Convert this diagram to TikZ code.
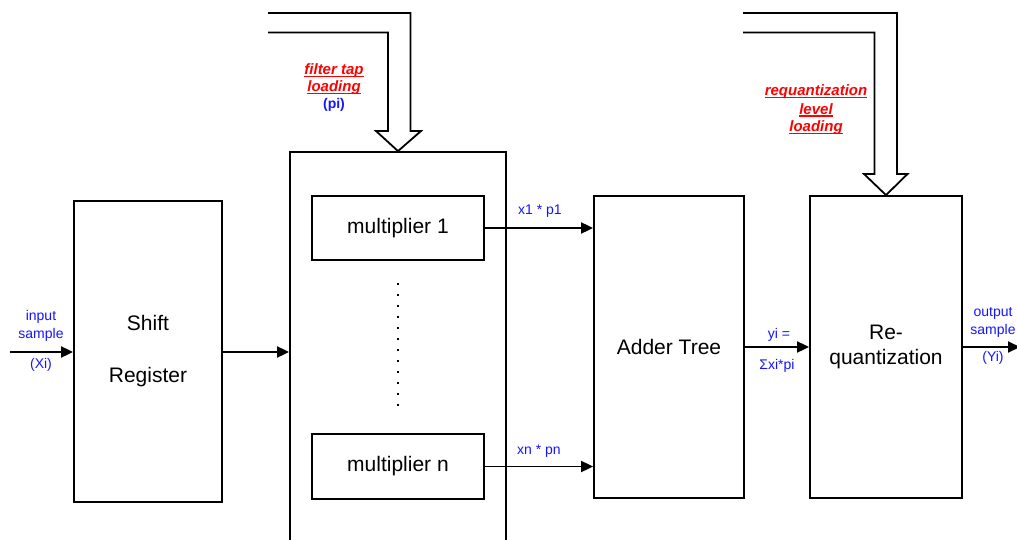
\documentclass[tikz,border=0pt]{standalone}
\usepackage{fontspec}
\setmainfont{Liberation Sans}
\usetikzlibrary{arrows.meta}
\definecolor{lblue}{RGB}{20,20,255}
\definecolor{lred}{RGB}{255,0,0}
\newcommand{\ulx}[1]{\setbox0\hbox{#1}\rlap{\rule[-2.6pt]{\wd0}{1.3pt}}\box0}
\tikzset{
  blk/.style={draw=black, line width=1.8pt, inner sep=0pt, align=center, font=\fontsize{21}{25}\selectfont},
  conn/.style={line width=1.8pt, -{Triangle[length=12pt,width=11pt]}},
  sig/.style={text=lblue, font=\fontsize{14}{17}\selectfont, align=center, inner sep=0pt},
  ldlab/.style={text=lred, font=\fontsize{15}{18}\selectfont\bfseries\itshape, align=center, inner sep=0pt},
  fat/.style={draw=black, line width=1.8pt, line join=miter}
}
\begin{document}
\begin{tikzpicture}[x=1pt,y=-1pt]
\useasboundingbox (0,0) rectangle (1017,540);
\clip (0,0) rectangle (1017,540);
% blocks
\node[blk, minimum width=148pt, minimum height=301pt] (shift) at (148,351.5) {Shift\\[27pt]Register};
\node[blk, minimum width=216pt, minimum height=420pt] (big) at (398,362) {};
\node[blk, minimum width=172pt, minimum height=64pt] (m1) at (398,228) {multiplier 1};
\node[blk, minimum width=172pt, minimum height=65pt] (mn) at (398,466.5) {multiplier n};
\node[blk, minimum width=150pt, minimum height=302pt] (adder) at (669,347) {Adder Tree};
\node[blk, minimum width=152pt, minimum height=302pt] (req) at (886,347) {Re-\\quantization};
% dots
\coordinate (dtop) at (398,283);
\coordinate (dbot) at (398,406);
\draw[line width=2pt, dash pattern=on 2pt off 9pt] (dtop) -- (dbot);
% connectors
\coordinate (in) at (10,352);
\coordinate (out) at (1020,347);
\draw[conn] (in) -- (in -| shift.west);
\draw[conn] (shift.east |- in) -- (in -| big.west);
\draw[conn] (m1.east) -- (m1.east -| adder.west);
\draw[conn] (mn.east) -- (mn.east -| adder.west);
\draw[conn] (adder.east) -- (req.west);
\draw[conn] (req.east) -- (out);
% signal labels
\node[sig] (lin1) at (41,317) {input};
\node[sig] (lin2) at (41,334.5) {sample};
\node[sig] (lin3) at (41,364.5) {(Xi)};
\node[sig] (lx1) at (540,211) {x1 * p1};
\node[sig] (lxn) at (539,451) {xn * pn};
\node[sig] (ly1) at (779,335) {yi =};
\node[sig] (ly2) at (777,366) {Σxi*pi};
\node[sig] (lo1) at (993,313) {output};
\node[sig] (lo2) at (993,331) {sample};
\node[sig] (lo3) at (993,358) {(Yi)};
% fat arrows
\draw[fat] (268,13) -- (410.5,13) -- (410.5,131) -- (421,131) -- (big.north) -- (376,131) -- (388,131) -- (388,32.5) -- (268,32.5);
\draw[fat] (743,13) -- (897,13) -- (897,174) -- (907.5,174) -- (req.north) -- (864,174) -- (874.5,174) -- (874.5,32.5) -- (743,32.5);
% loading labels
\node[ldlab] (ft1) at (334,71) {\ulx{filter tap}};
\node[ldlab] (ft2) at (334,88) {\ulx{loading}};
\node[sig, font=\fontsize{14}{17}\selectfont\bfseries] (ft3) at (334,105) {(pi)};
\node[ldlab] (rq1) at (816,92) {\ulx{requantization}};
\node[ldlab] (rq2) at (816,110) {\ulx{level}};
\node[ldlab] (rq3) at (816,128) {\ulx{loading}};
\end{tikzpicture}
\end{document}
